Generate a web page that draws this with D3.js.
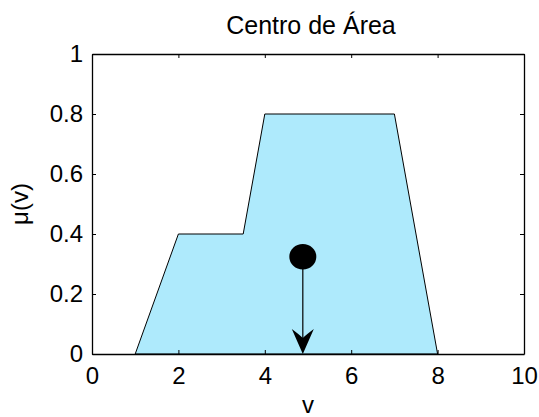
<!DOCTYPE html>
<html>
<head>
<meta charset="utf-8">
<script src="https://cdn.jsdelivr.net/npm/d3@7"></script>
<style>
  html, body { margin: 0; padding: 0; background: #fff; }
  svg { display: block; }
  text { font-family: "Liberation Sans", Arial, Helvetica, sans-serif; fill: #000; }
</style>
</head>
<body>
<svg id="chart" width="539" height="417"></svg>
<script>
// ---- data ----
const titleText = "Centro de Área";
const xLabel = "v";
const yLabel = "μ(v)";
const shapeX = [1, 2, 3.5, 4, 7, 8];
const shapeMu = [0, 0.4, 0.4, 0.8, 0.8, 0];
const centroidX = [4.88];
const centroidMu = [0.324];
const xTicks = [0, 2, 4, 6, 8, 10];
const yTicks = [0, 0.2, 0.4, 0.6, 0.8, 1];
const yTickLabels = ["0", "0.2", "0.4", "0.6", "0.8", "1"];

const svg = d3.select("#chart");
const m = { left: 92, right: 15, top: 54, bottom: 63 };
const W = 539, H = 417;
const iw = W - m.left - m.right, ih = H - m.top - m.bottom;
const x = d3.scaleLinear().domain([0, 10]).range([m.left, m.left + iw]);
const y = d3.scaleLinear().domain([0, 1]).range([m.top + ih, m.top]);

// filled region
const pts = shapeX.map((v, i) => [v, shapeMu[i]]);
svg.append("path")
  .attr("d", d3.line().x(d => x(d[0])).y(d => y(d[1]))(pts) + "Z")
  .attr("fill", "#aeeafc")
  .attr("stroke", "#000")
  .attr("stroke-width", 1);

// centroid arrow
const cx = x(centroidX[0]), cy = y(centroidMu[0]), base = y(0);
svg.append("line")
  .attr("x1", cx).attr("x2", cx)
  .attr("y1", cy).attr("y2", base - 10)
  .attr("stroke", "#000").attr("stroke-width", 1.2);
svg.append("path")
  .attr("d", `M${cx},${base} L${cx - 11},${base - 25} Q${cx - 3},${base - 19} ${cx},${base - 16} Q${cx + 3},${base - 19} ${cx + 11},${base - 25} Z`)
  .attr("fill", "#000");
svg.append("ellipse")
  .attr("cx", cx).attr("cy", cy)
  .attr("rx", 13.5).attr("ry", 12.7)
  .attr("fill", "#000");

// axes
const fmtY = (d, i) => yTickLabels[yTicks.indexOf(d)];
const gx = svg.append("g").attr("transform", `translate(0,${m.top + ih})`)
  .call(d3.axisBottom(x).tickValues(xTicks).tickSizeInner(-4).tickSizeOuter(0).tickPadding(13));
const gy = svg.append("g").attr("transform", `translate(${m.left},0)`)
  .call(d3.axisLeft(y).tickValues(yTicks).tickFormat(fmtY).tickSizeInner(-4).tickSizeOuter(0).tickPadding(9));
const gt = svg.append("g").attr("transform", `translate(0,${m.top})`)
  .call(d3.axisTop(x).tickValues(xTicks).tickSizeInner(-4).tickSizeOuter(0).tickFormat(""));
const gr = svg.append("g").attr("transform", `translate(${m.left + iw},0)`)
  .call(d3.axisRight(y).tickValues(yTicks).tickSizeInner(-4).tickSizeOuter(0).tickFormat(""));
[gx, gy, gt, gr].forEach(g => {
  g.selectAll(".domain").attr("stroke", "#000").attr("stroke-width", 1.3);
  g.selectAll(".tick line").attr("stroke", "#000").attr("stroke-width", 1);
  g.selectAll("text").attr("font-size", 24).attr("font-family", "Liberation Sans, Arial, sans-serif").attr("fill", "#000");
});
gx.selectAll("text").attr("dy", "0.71em");

// labels
svg.append("text").attr("x", (m.left + m.left + iw) / 2 + 3).attr("y", 34)
  .attr("text-anchor", "middle").attr("font-size", 25).text(titleText);
svg.append("text").attr("x", m.left + iw / 2).attr("y", 413)
  .attr("text-anchor", "middle").attr("font-size", 24).text(xLabel);
svg.append("text").attr("transform", `translate(28,${m.top + ih / 2}) rotate(-90)`)
  .attr("text-anchor", "middle").attr("font-size", 24).text(yLabel);
</script>
</body>
</html>
